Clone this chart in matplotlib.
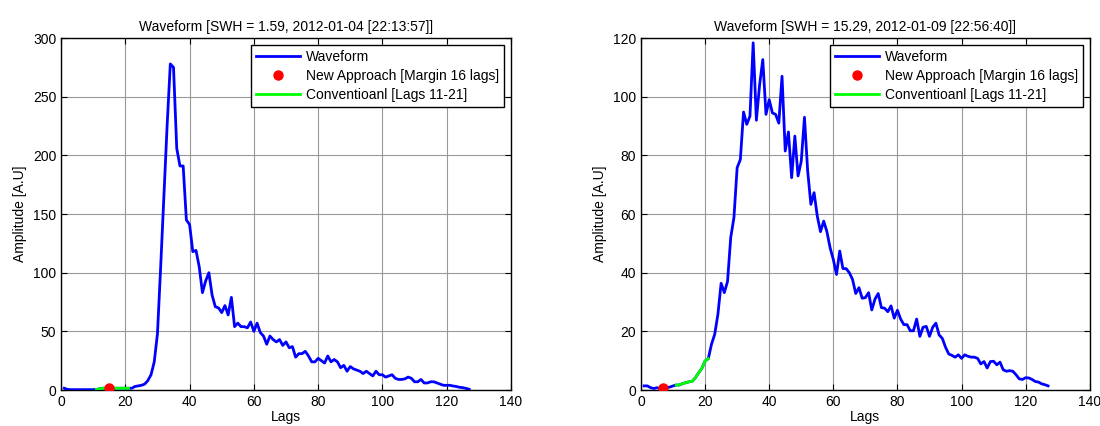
import numpy as np
import matplotlib
matplotlib.use("Agg")
import matplotlib.pyplot as plt

plt.rcParams['font.family'] = ['Liberation Sans', 'DejaVu Sans']

lags = np.arange(1, 128)

wave_left = [1.5, 0.5, 0.3, 0.3, 0.3, 0.3, 0.3, 0.3, 0.3, 0.3,
             0.5, 1.0, 1.5, 1.5, 1.5, 1.5, 1.5, 1.5, 1.5, 1.5,
             1.5, 1.5, 3, 3.5, 4, 5, 8, 13, 24, 48,
             105, 165, 225, 278, 275, 206, 191, 191, 145, 141,
             118, 119, 105, 83, 93, 100, 81, 71, 70, 66,
             72, 64, 79, 54, 57, 54, 54, 53, 58, 50,
             57, 49, 46, 39, 46, 43, 41, 43, 38, 41,
             36, 37, 28, 31, 31, 33, 29, 24, 24, 27,
             25, 23, 29, 24, 26, 24, 19, 21, 16, 20,
             18, 17, 16, 14, 16, 14, 12, 16, 13, 13,
             11, 12, 13, 10, 9, 9, 9.5, 11, 10, 7,
             7, 9, 6, 6, 7, 7, 6, 5, 4, 4,
             4, 3.4, 3, 2.3, 2, 1.4, 0.6]

wave_right = [1.4, 1.4, 0.8, 0.5, 0.8, 0.5, 0.8, 0.8, 1.0, 1.4,
              1.7, 1.7, 2.2, 2.5, 2.8, 3.0, 4.2, 5.9, 7.4, 9.9,
              10.7, 15.6, 19, 25.8, 36.4, 33.2, 37, 52, 58.8, 75.8,
              78.6, 94.8, 90.6, 93.4, 118.4, 92, 104, 112.7, 94, 99,
              94.5, 94, 91, 107, 81.5, 88, 72.4, 86.6, 73, 78,
              93, 74.7, 63.3, 67.3, 59.3, 54, 57.6, 54, 48.5, 44.5,
              39.4, 47.4, 41.4, 41.4, 40, 37.7, 32.9, 34.9, 31.3, 31.5,
              33.2, 27.3, 31, 32.9, 28.1, 27.9, 26.7, 28.7, 24.5, 27.2,
              24.2, 22.3, 22.3, 20.2, 20.2, 24.2, 18.3, 21.4, 21.7, 18.3,
              21.4, 22.8, 18.8, 17.6, 14.6, 12.3, 11.8, 11.2, 12, 10.8,
              12, 11.5, 11.2, 11.2, 10.8, 8.9, 9.7, 7.5, 9.7, 9.8,
              8.6, 9.5, 6.9, 6.4, 6.6, 6.4, 5.2, 3.8, 3.6, 4.2,
              4.1, 3.6, 2.9, 2.7, 2.1, 1.8, 1.4]

titles = ["Waveform [SWH = 1.59, 2012-01-04 [22:13:57]]",
          "Waveform [SWH = 15.29, 2012-01-09 [22:56:40]]"]
new_lag = [15, 7]
conv_range = (11, 21)
ylims = [(0, 300), (0, 120)]
ysteps = [50, 20]
legend_labels = ["Waveform", "New Approach [Margin 16 lags]", "Conventioanl [Lags 11-21]"]

fig = plt.figure(figsize=(11, 4.26), dpi=100)
positions = [[0.0555, 0.0845, 0.409, 0.826], [0.5827, 0.0845, 0.408, 0.826]]

for i, wave in enumerate([wave_left, wave_right]):
    ax = fig.add_axes(positions[i])
    w = np.array(wave)
    ax.plot(lags, w, color='#0000ff', lw=2.0, label=legend_labels[0], zorder=3)
    idx = new_lag[i] - 1
    ax.plot([lags[idx]], [w[idx]], 'o', color='#ff0000', ms=6.5, mec='#ff0000',
            label=legend_labels[1], zorder=5)
    m = (lags >= conv_range[0]) & (lags <= conv_range[1])
    ax.plot(lags[m], w[m], color='#00ff00', lw=2.0, label=legend_labels[2], zorder=4)
    ax.set_xlim(0, 140)
    ax.set_ylim(*ylims[i])
    ax.set_xticks(np.arange(0, 141, 20))
    ax.set_yticks(np.arange(ylims[i][0], ylims[i][1] + 1, ysteps[i]))
    ax.grid(True, color='#999999', lw=0.8)
    ax.set_axisbelow(True)
    ax.tick_params(direction='in', top=True, right=True, labelsize=10, length=4, width=0.8)
    for s in ax.spines.values():
        s.set_linewidth(1.0)
    ax.set_title(titles[i], fontsize=10, pad=5)
    ax.set_xlabel("Lags", fontsize=10, labelpad=1)
    ax.set_ylabel("Amplitude [A.U]", fontsize=10, labelpad=4)
    leg = ax.legend(loc='upper right', fontsize=10, fancybox=False, framealpha=1,
                    edgecolor='black', borderpad=0.35, labelspacing=0.37,
                    handlelength=3.2, handletextpad=0.4, borderaxespad=0.5)
    leg.get_frame().set_linewidth(1.0)

fig.savefig("out.png", dpi=100)
